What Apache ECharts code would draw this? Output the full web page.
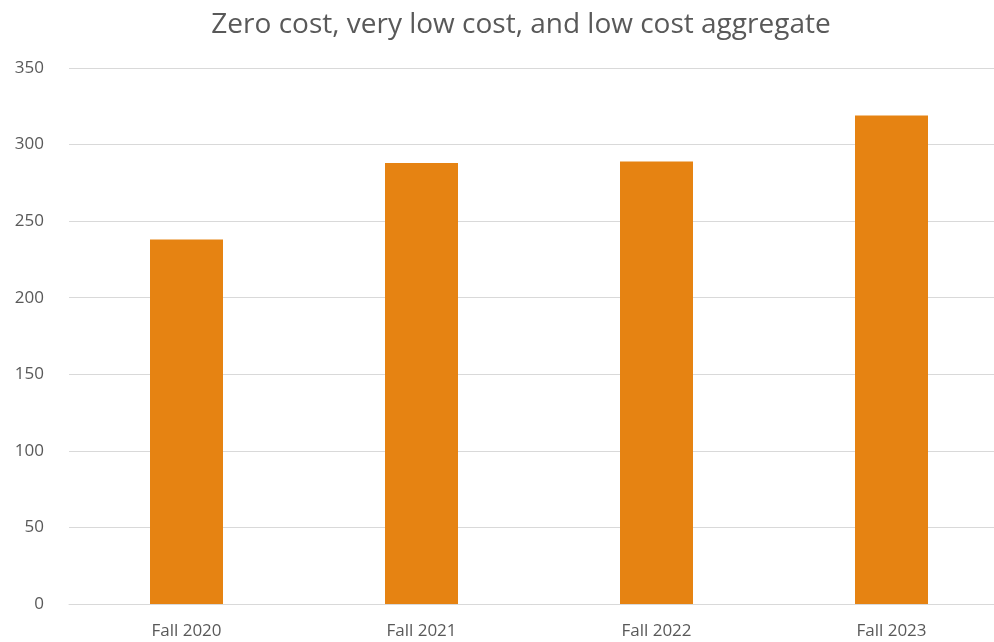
<!DOCTYPE html>
<html>
<head>
<meta charset="utf-8">
<script src="https://cdn.jsdelivr.net/npm/echarts@6/dist/echarts.min.js"></script>
<style>
html, body { margin: 0; padding: 0; background: #fff; }
#chart { width: 994px; height: 642px; }
</style>
</head>
<body>
<div id="chart"></div>
<script>
var categories = ['Fall 2020', 'Fall 2021', 'Fall 2022', 'Fall 2023'];
var values = [238, 288, 289, 319];

var chart = echarts.init(document.getElementById('chart'));
var option = {
    animation: false,
    title: {
        text: 'Zero cost, very low cost, and low cost aggregate',
        left: 516,
        textAlign: 'center',
        top: 6,
        textStyle: {
            fontFamily: 'Open Sans',
            fontSize: 28,
            fontWeight: 'normal',
            color: '#595959'
        }
    },
    grid: {
        left: 69,
        right: -15,
        top: 68,
        bottom: 38,
        outerBoundsMode: 'none'
    },
    xAxis: {
        type: 'category',
        data: categories,
        axisTick: { show: false },
        axisLine: { lineStyle: { color: '#d9d9d9', width: 1 } },
        axisLabel: {
            fontFamily: 'Open Sans',
            fontSize: 17,
            color: '#595959',
            margin: 19
        }
    },
    yAxis: {
        type: 'value',
        min: 0,
        max: 350,
        interval: 50,
        axisLine: { show: false },
        axisTick: { show: false },
        splitLine: { lineStyle: { color: '#d9d9d9', width: 1 } },
        axisLabel: {
            fontFamily: 'Open Sans',
            fontSize: 17,
            color: '#595959',
            margin: 25
        }
    },
    series: [
        {
            type: 'bar',
            data: values,
            barWidth: 73,
            itemStyle: { color: '#e68312' }
        }
    ]
};
chart.setOption(option);
</script>
</body>
</html>
